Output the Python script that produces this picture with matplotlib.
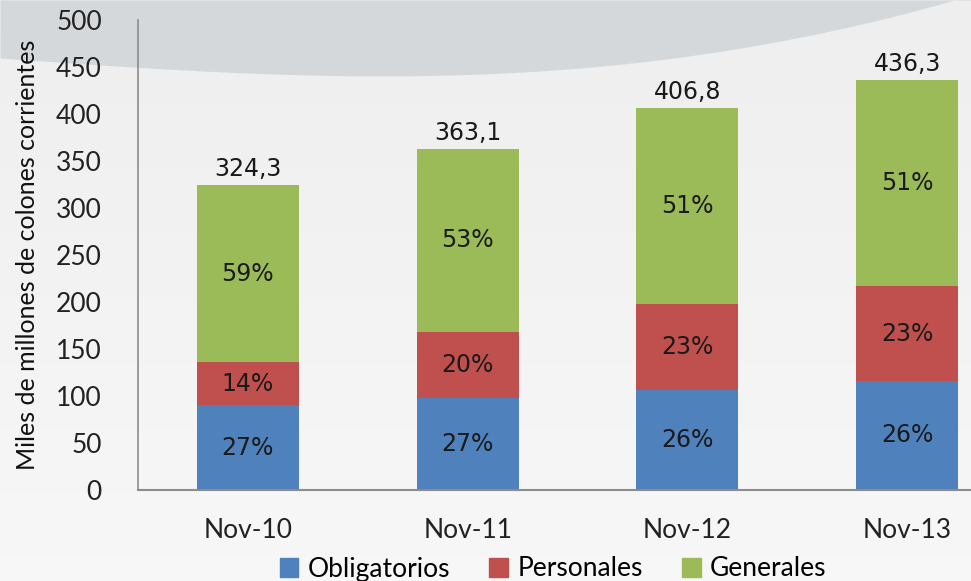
import numpy as np
import matplotlib
matplotlib.use("Agg")
import matplotlib.pyplot as plt
from matplotlib.patches import Patch

categories = ["Nov-10", "Nov-11", "Nov-12", "Nov-13"]
obligatorios = [90.4, 97.5, 106.5, 116.0]
personales = [45.6, 70.5, 91.5, 100.5]
totals = [324.3, 363.1, 406.8, 436.3]
generales = [t - o - p for t, o, p in zip(totals, obligatorios, personales)]
pct_oblig = ["27%", "27%", "26%", "26%"]
pct_pers = ["14%", "20%", "23%", "23%"]
pct_gen = ["59%", "53%", "51%", "51%"]
total_labels = ["324,3", "363,1", "406,8", "436,3"]
series_names = ["Obligatorios", "Personales", "Generales"]
colors = ["#4F81BD", "#C0504D", "#9BBB59"]

W, H = 971, 581
fig = plt.figure(figsize=(W / 100, H / 100), dpi=100)

# background
bg = fig.add_axes([0, 0, 1, 1], zorder=-10)
bg.set_xlim(0, W)
bg.set_ylim(H, 0)
bg.axis("off")
grad = np.linspace(0, 1, 256).reshape(-1, 1)
bg.imshow(np.dstack([0.935 + 0.035 * grad] * 3).clip(0, 1), extent=[0, W, H, 0], aspect="auto")
xs = np.linspace(0, W, 200)
curve = 58 + 26 * np.sin(np.pi * xs / 1150) - 75 * (xs / W) ** 3
bg.fill_between(xs, 0, curve, color="#D5D8DB", lw=0)

ax = fig.add_axes([138 / W, (H - 490) / H, 879 / W, 470 / H])
ax.patch.set_alpha(0)
x = np.arange(len(categories))
bw = 0.465
ax.bar(x, obligatorios, bw, color=colors[0])
ax.bar(x, personales, bw, bottom=obligatorios, color=colors[1])
bot2 = [o + p for o, p in zip(obligatorios, personales)]
ax.bar(x, generales, bw, bottom=bot2, color=colors[2])

lab_font = dict(family="DejaVu Sans", fontsize=17, color="#1a1a1a")
tot_font = dict(family="DejaVu Sans", fontsize=17, color="#1a1a1a")
for i in range(len(categories)):
    ax.text(x[i], obligatorios[i] / 2, pct_oblig[i], ha="center", va="center", **lab_font)
    ax.text(x[i], obligatorios[i] + personales[i] / 2, pct_pers[i], ha="center", va="center", **lab_font)
    ax.text(x[i], bot2[i] + generales[i] / 2, pct_gen[i], ha="center", va="center", **lab_font)
    ax.text(x[i], totals[i] + 4, total_labels[i], ha="center", va="bottom", **tot_font)

ax.set_xlim(-0.5, 3.5)
ax.set_ylim(0, 500)
ax.set_yticks(range(0, 501, 50))
ax.set_xticks(x)
ax.set_xticklabels(categories)
for s in ["top", "right"]:
    ax.spines[s].set_visible(False)
ax.spines["left"].set_color("#8c8c8c")
ax.spines["bottom"].set_color("#8c8c8c")
ax.spines["left"].set_linewidth(1.2)
ax.spines["bottom"].set_linewidth(1.5)
ax.tick_params(axis="y", length=0, pad=26, labelsize=19, labelcolor="#222222")
ax.tick_params(axis="x", length=0, pad=20, labelsize=19, labelcolor="#222222")
for t in ax.get_yticklabels():
    t.set_family("Lato")
    t.set_horizontalalignment("right")
for t in ax.get_xticklabels():
    t.set_family("Lato")
ax.set_ylabel("Miles de millones de colones corrientes", fontsize=18, family="Lato",
              color="#111111", labelpad=12)

handles = [Patch(color=c) for c in colors]
fig.legend(handles, series_names, loc="center", bbox_to_anchor=(553 / W, (H - 569) / H),
           ncol=3, frameon=False, handlelength=0.7, handleheight=0.7, handletextpad=0.35,
           columnspacing=1.5, prop=dict(family="Lato", size=19))

fig.savefig("out.png", dpi=100)
